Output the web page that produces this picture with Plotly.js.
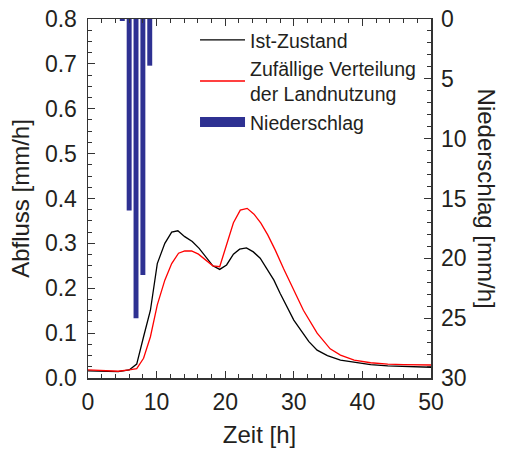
<!DOCTYPE html>
<html><head><meta charset="utf-8">
<script src="https://cdn.plot.ly/plotly-3.0.1.min.js"></script>
<style>html,body{margin:0;padding:0;background:#fff}#c{width:505px;height:457px}</style>
</head><body><div id="c"></div>
<script>
// Time (h) and discharge (mm/h)
var tIst = [0,2,4.4,6,7.1,8.1,9.1,10.1,11.2,12.2,13.1,14.1,15.2,16.2,17.2,18.2,19.2,20.2,21.2,22.1,23.1,24.1,25.1,26.1,27.1,28,29,30,31.2,32.2,33.4,34.9,36.8,38.8,41.2,43.7,46,48.5,50];
var qIst = [0.016,0.015,0.014,0.018,0.031,0.092,0.151,0.255,0.300,0.325,0.328,0.315,0.304,0.289,0.270,0.250,0.242,0.252,0.276,0.287,0.290,0.281,0.267,0.244,0.218,0.189,0.159,0.129,0.103,0.081,0.062,0.050,0.040,0.035,0.030,0.027,0.026,0.025,0.024];
var tZuf = [0,2,4.4,6,7.1,8.1,9.1,10.1,11.2,12.2,13.2,14.1,15.1,16.1,17.1,18.2,19.2,20.2,21.2,22.2,23.2,24.2,25.2,26.2,27.3,28.5,30,31.4,33.4,35.3,36.8,38.8,41.2,43.7,46,48.5,50];
var qZuf = [0.018,0.017,0.015,0.018,0.021,0.044,0.092,0.163,0.218,0.255,0.278,0.283,0.283,0.276,0.264,0.250,0.248,0.296,0.346,0.374,0.378,0.365,0.345,0.319,0.285,0.244,0.196,0.151,0.100,0.065,0.051,0.040,0.034,0.031,0.030,0.030,0.029];
// Precipitation (mm/h)
var tRain = [5,6,7,8,9];
var pRain = [0.17,16,25,21.4,3.9];
var names = ["Ist-Zustand","Zufällige Verteilung<br>der Landnutzung","Niederschlag"];

var txt = '#231f20';
var F = 'Liberation Sans, Arial, sans-serif';
var FT = 23, FA = 24, FL = 19.5;
var traces = [
 {x:tIst,y:qIst,type:'scatter',mode:'lines',name:names[0],line:{color:'#000',width:1.3}},
 {x:tZuf,y:qZuf,type:'scatter',mode:'lines',name:names[1],line:{color:'#ff0000',width:1.3}},
 {x:[null],y:[null],type:'scatter',mode:'lines',name:names[2],line:{color:'#2e3192',width:10}},
 {x:tRain,y:pRain,type:'bar',yaxis:'y2',width:0.72,marker:{color:'#2e3192'},showlegend:false,name:names[2]}
];
var layout = {
 width:505,height:457,margin:{l:88,r:74,t:19,b:79},
 paper_bgcolor:'#fff',plot_bgcolor:'#fff',
 font:{family:F,size:FT,color:txt},
 showlegend:true,
 legend:{x:0.312,y:0.995,xanchor:'left',yanchor:'top',bgcolor:'rgba(0,0,0,0)',font:{size:FL,color:txt},tracegroupgap:0,itemwidth:45},
 xaxis:{range:[0,50],dtick:10,ticks:'inside',ticklen:7,tickcolor:'#333',showline:true,linecolor:'#333',linewidth:1.5,mirror:'ticks',showgrid:false,zeroline:false,
   ticklabelstandoff:3,tickfont:{size:FT},automargin:false,
   minor:{dtick:2,ticks:'inside',ticklen:4,tickcolor:'#333'},
   title:{text:'Zeit [h]',font:{size:FA,color:txt},standoff:12}},
 yaxis:{range:[0,0.8],dtick:0.1,tickformat:'.1f',ticks:'inside',ticklen:7,tickcolor:'#333',showline:true,linecolor:'#333',linewidth:1.5,mirror:true,showgrid:false,zeroline:false,
   ticklabelstandoff:5,tickfont:{size:FT},automargin:false,
   minor:{dtick:0.025,ticks:'inside',ticklen:4,tickcolor:'#333'},
   title:{text:'Abfluss [mm/h]',font:{size:FA,color:txt},standoff:8}},
 yaxis2:{range:[30,0],dtick:5,overlaying:'y',side:'right',ticks:'inside',ticklen:7,tickcolor:'#333',showline:false,showgrid:false,zeroline:false,
   ticklabelstandoff:9,tickfont:{size:FT},automargin:false,
   minor:{dtick:1,ticks:'inside',ticklen:4,tickcolor:'#333'}},
 annotations:[{text:'Niederschlag [mm/h]',xref:'paper',yref:'paper',x:1.163,y:0.5,xanchor:'center',yanchor:'middle',textangle:90,showarrow:false,font:{size:FA,color:txt}}]
};
Plotly.newPlot('c',traces,layout,{displayModeBar:false,staticPlot:true});
</script></body></html>
